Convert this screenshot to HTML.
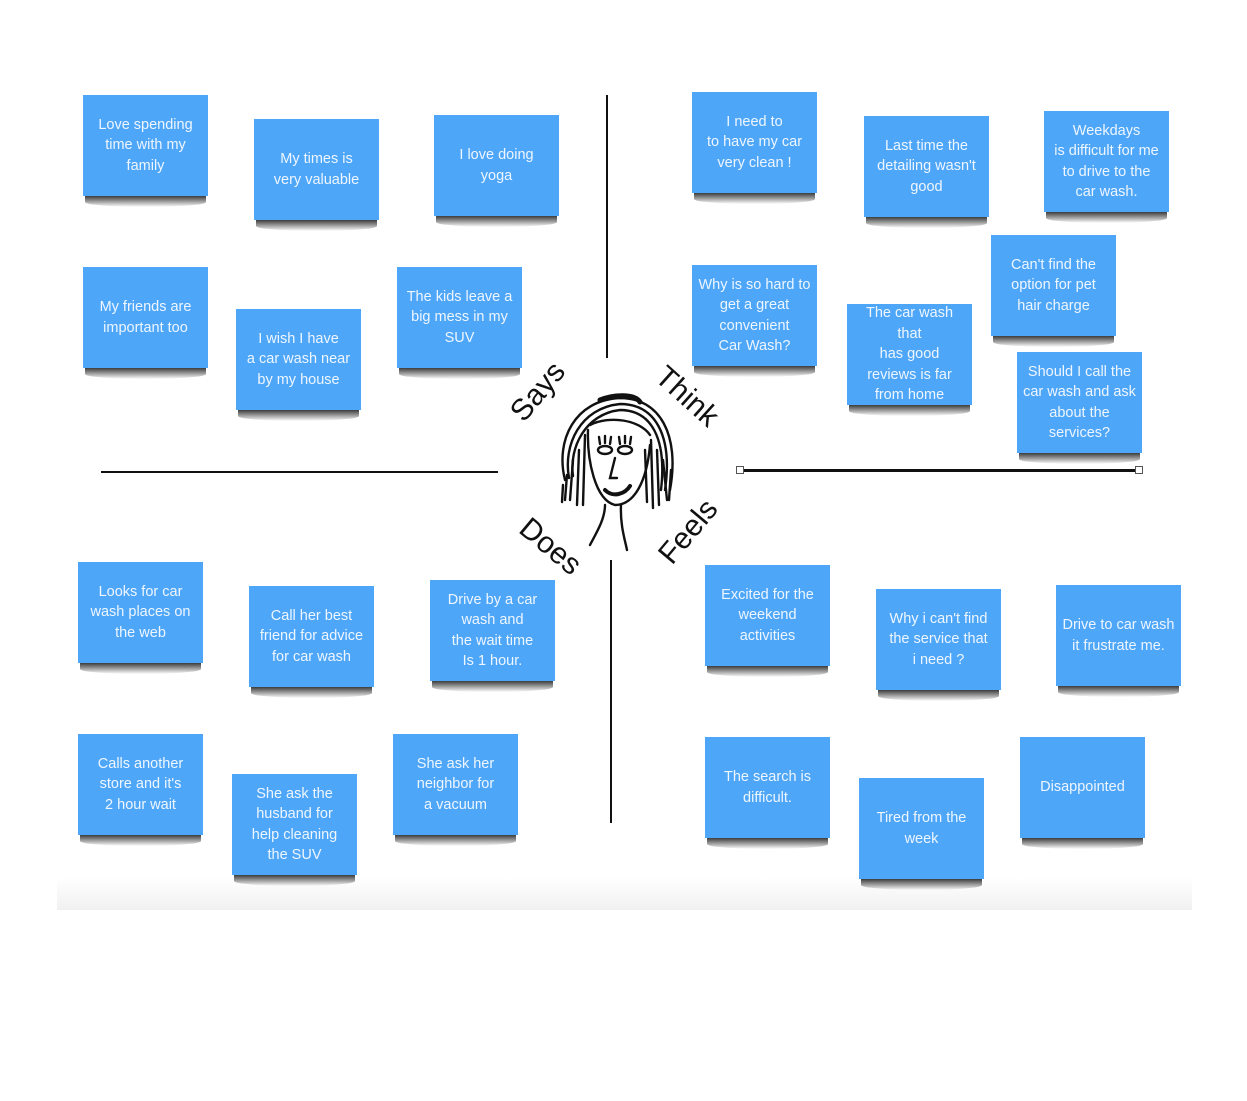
<!DOCTYPE html>
<html><head><meta charset="utf-8"><style>
html,body{margin:0;padding:0;background:#fff;}
body{width:1247px;height:1101px;position:relative;overflow:hidden;font-family:"Liberation Sans",sans-serif;}
.n{position:absolute;width:125px;height:101px;background:#4ea6f9;color:#eef6ff;font-size:14.5px;line-height:20.5px;text-align:center;display:flex;align-items:center;justify-content:center;box-sizing:border-box;padding:0 1px;white-space:nowrap;}
.n::after{content:"";position:absolute;left:2px;right:2px;bottom:-11px;height:11px;background:linear-gradient(#1a1a1a,rgba(0,0,0,0));border-radius:0 0 50% 50%/0 0 45% 45%;opacity:.85;}
.l{position:absolute;background:#111;}
.t{position:absolute;font-size:30px;color:#111;white-space:nowrap;}
.band{position:absolute;left:57px;top:878px;width:1135px;height:32px;background:linear-gradient(rgba(240,240,240,0),#f0f0f0);}
</style></head><body>
<div class="band"></div>
<div class="l" style="left:606px;top:95px;width:2px;height:263px"></div>
<div class="l" style="left:610px;top:560px;width:2px;height:263px"></div>
<div class="l" style="left:101px;top:471px;width:397px;height:2px"></div>
<div class="l" style="left:740px;top:469px;width:398px;height:3px"></div>
<div style="position:absolute;left:736px;top:466px;width:6px;height:6px;border:1px solid #555;background:#fff"></div>
<div style="position:absolute;left:1135px;top:466px;width:6px;height:6px;border:1px solid #555;background:#fff"></div>

<div class="n" style="left:83px;top:95px">Love spending<br>time with my<br>family</div>
<div class="n" style="left:254px;top:119px">My times is<br>very valuable</div>
<div class="n" style="left:434px;top:115px">I love doing<br>yoga</div>
<div class="n" style="left:83px;top:267px">My friends are<br>important too</div>
<div class="n" style="left:236px;top:309px">I wish I have<br>a car wash near<br>by my house</div>
<div class="n" style="left:397px;top:267px">The kids leave a<br>big mess in my<br>SUV</div>
<div class="n" style="left:692px;top:92px">I need to<br>to have my car<br>very clean !</div>
<div class="n" style="left:864px;top:116px">Last time the<br>detailing wasn't<br>good</div>
<div class="n" style="left:1044px;top:111px">Weekdays<br>is difficult for me<br>to drive to the<br>car wash.</div>
<div class="n" style="left:692px;top:265px">Why is so hard to<br>get a great<br>convenient<br>Car Wash?</div>
<div class="n" style="left:847px;top:304px">The car wash<br>that<br>has good<br>reviews is far<br>from home</div>
<div class="n" style="left:991px;top:235px">Can't find the<br>option for pet<br>hair charge</div>
<div class="n" style="left:1017px;top:352px">Should I call the<br>car wash and ask<br>about the<br>services?</div>
<div class="n" style="left:78px;top:562px">Looks for car<br>wash places on<br>the web</div>
<div class="n" style="left:249px;top:586px">Call her best<br>friend for advice<br>for car wash</div>
<div class="n" style="left:430px;top:580px">Drive by a car<br>wash and<br>the wait time<br>Is 1 hour.</div>
<div class="n" style="left:78px;top:734px">Calls another<br>store and it's<br>2 hour wait</div>
<div class="n" style="left:232px;top:774px">She ask the<br>husband for<br>help cleaning<br>the SUV</div>
<div class="n" style="left:393px;top:734px">She ask her<br>neighbor for<br>a vacuum</div>
<div class="n" style="left:705px;top:565px">Excited for the<br>weekend<br>activities</div>
<div class="n" style="left:876px;top:589px">Why i can't find<br>the service that<br>i need ?</div>
<div class="n" style="left:1056px;top:585px">Drive to car wash<br>it frustrate me.</div>
<div class="n" style="left:705px;top:737px">The search is<br>difficult.</div>
<div class="n" style="left:859px;top:778px">Tired from the<br>week</div>
<div class="n" style="left:1020px;top:737px">Disappointed</div>

<div class="t" style="left:505px;top:375px;transform:rotate(-50deg)">Says</div>
<div class="t" style="left:650px;top:380px;transform:rotate(42deg)">Think</div>
<div class="t" style="left:515px;top:530px;transform:rotate(40deg)">Does</div>
<div class="t" style="left:652px;top:515px;transform:rotate(-50deg)">Feels</div>

<svg style="position:absolute;left:555px;top:390px" width="130" height="170" viewBox="0 0 130 170" fill="none" stroke="#111" stroke-width="2.4" stroke-linecap="round">
<path d="M10 90 C0 50 20 10 65 8 C105 8 125 45 115 100"/>
<path d="M14 88 C8 55 25 18 65 14 C100 14 118 45 110 100"/>
<path d="M18 86 C14 58 30 24 65 20 C96 20 112 48 106 100"/>
<path d="M45 10 C60 4 80 4 85 12" stroke-width="5"/>
<path d="M12 85 L10 110 M18 70 L15 110 M24 60 L22 115 M30 45 L28 115 M8 95 L7 112"/>
<path d="M108 70 L112 110 M102 60 L104 115 M96 50 L98 118 M116 80 L114 110 M90 60 L92 112"/>
<path d="M35 35 C55 25 85 30 95 45"/>
<path d="M33 40 C32 70 40 110 60 115 C80 115 92 90 95 55"/>
<ellipse cx="50" cy="60" rx="7" ry="4"/><ellipse cx="70" cy="60" rx="7" ry="4"/>
<path d="M45 54 L44 47 M50 53 L50 46 M55 54 L56 47 M65 54 L64 47 M70 53 L70 46 M75 54 L76 47"/>
<path d="M60 68 L55 88 L62 88"/>
<path d="M50 100 C58 108 70 104 75 96" stroke-width="4"/>
<path d="M50 115 C50 130 40 145 35 155 M66 115 C65 135 70 150 72 160"/>
</svg>
</body></html>
